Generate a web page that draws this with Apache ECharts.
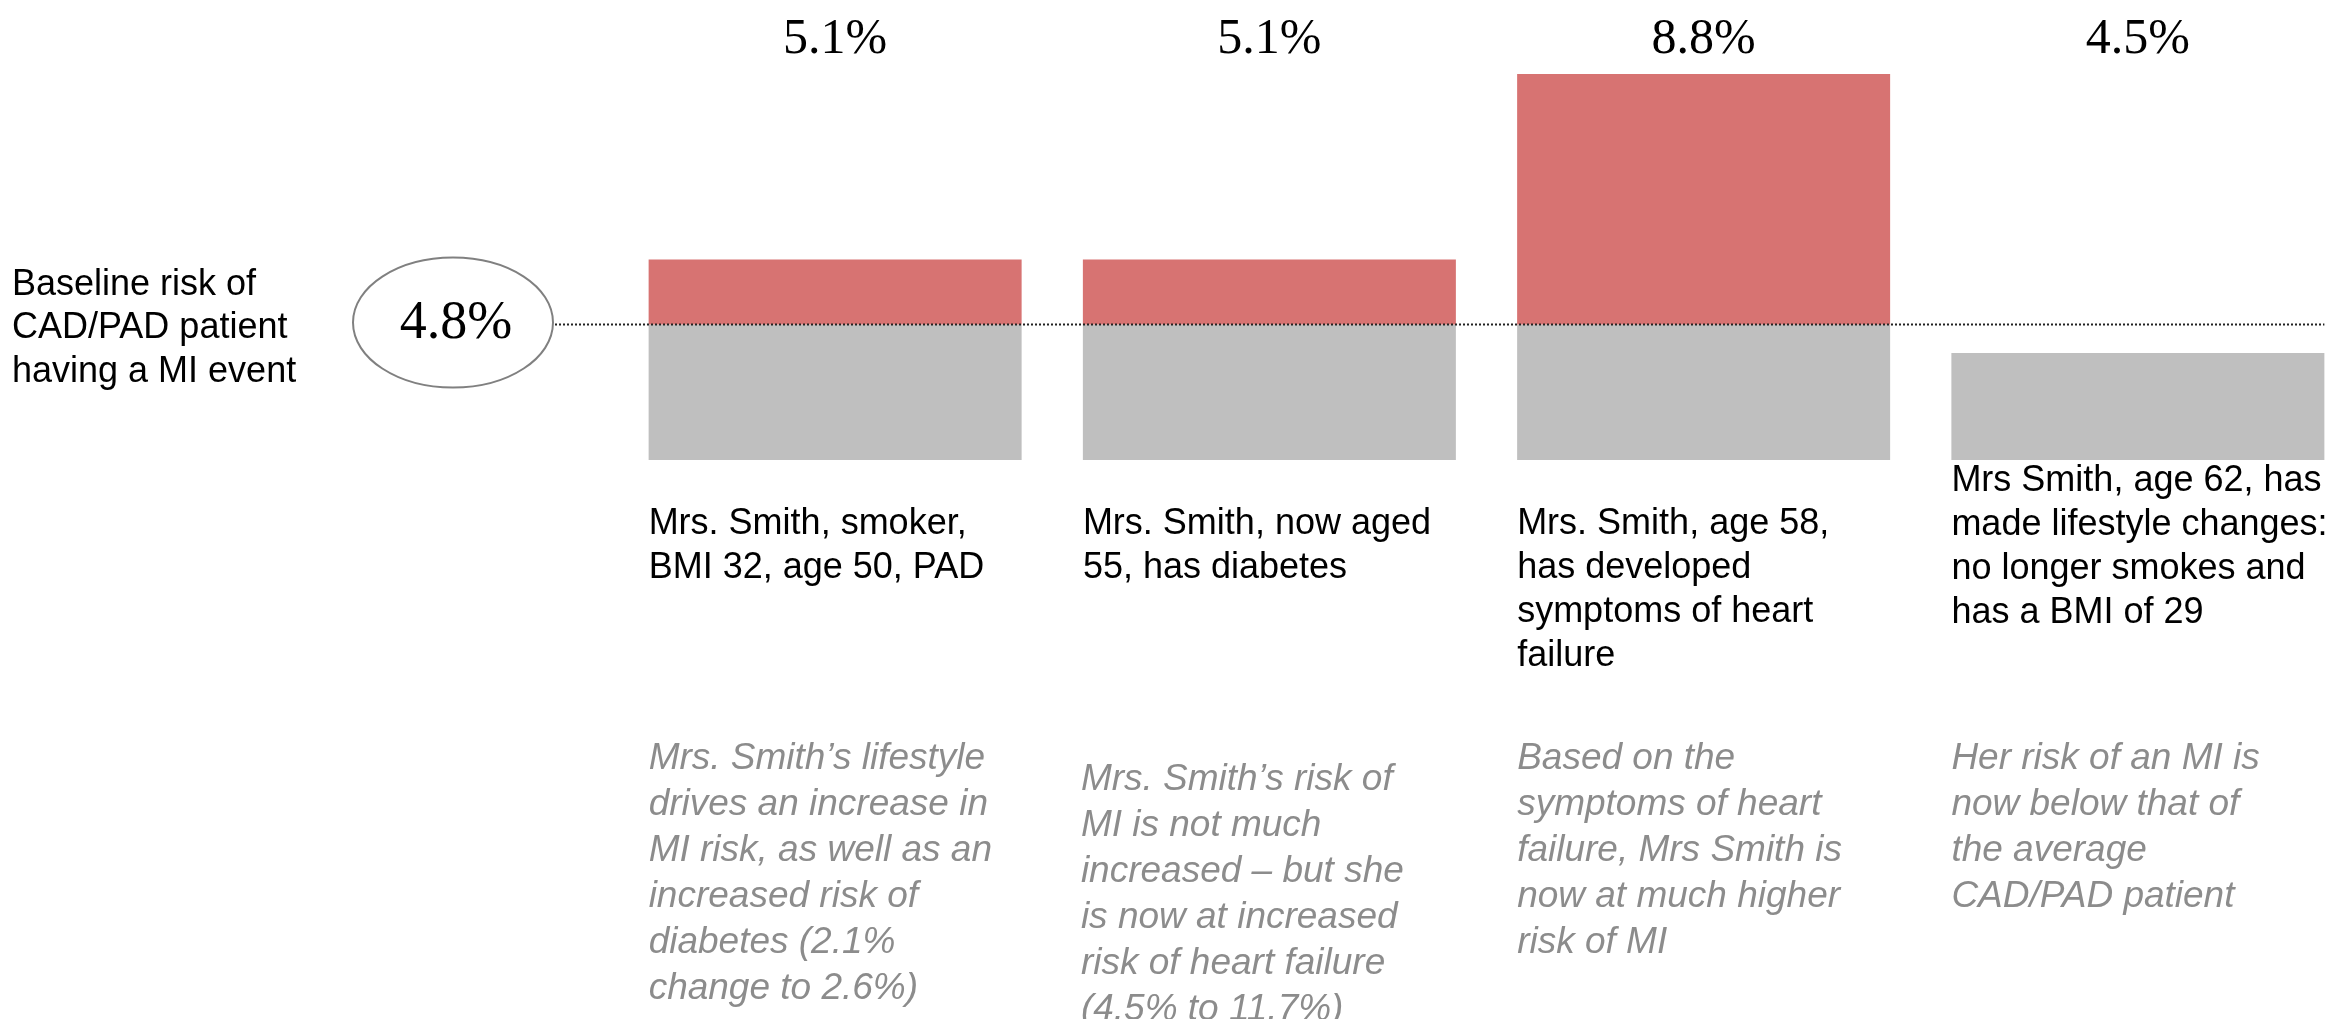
<!DOCTYPE html>
<html>
<head>
<meta charset="utf-8">
<script src="https://cdn.jsdelivr.net/npm/echarts@6/dist/echarts.min.js"></script>
<style>
html,body{margin:0;padding:0;background:#fff;}
#chart{width:2350px;height:1019px;}
</style>
</head>
<body>
<div id="chart"></div>
<script>
// ---- data ----
const categories = ['Age 50', 'Age 55', 'Age 58', 'Age 62'];
const riskValues = [5.1, 5.1, 8.8, 4.5];          // MI risk shown above each bar (%)
const baselineRisk = 4.8;                           // baseline CAD/PAD MI risk (%)
// illustrative bar heights as drawn (baseline grey segment = 1)
const greyHeights = [1, 1, 1, 0.79];
const redHeights = [0.48, 0.48, 1.85, 0];
const baselineLabel = ['Baseline risk of', 'CAD/PAD patient', 'having a MI event'];
const descriptions = [
  ['Mrs. Smith, smoker,', 'BMI 32, age 50, PAD'],
  ['Mrs. Smith, now aged', '55, has diabetes'],
  ['Mrs. Smith, age 58,', 'has developed', 'symptoms of heart', 'failure'],
  ['Mrs Smith, age 62, has', 'made lifestyle changes:', 'no longer smokes and', 'has a BMI of 29']
];
const commentary = [
  ['Mrs. Smith\u2019s lifestyle', 'drives an increase in', 'MI risk, as well as an', 'increased risk of', 'diabetes (2.1%', 'change to 2.6%)'],
  ['Mrs. Smith\u2019s risk of', 'MI is not much', 'increased \u2013 but she', 'is now at increased', 'risk of heart failure', '(4.5% to 11.7%)'],
  ['Based on the', 'symptoms of heart', 'failure, Mrs Smith is', 'now at much higher', 'risk of MI'],
  ['Her risk of an MI is', 'now below that of', 'the average', 'CAD/PAD patient']
];

// ---- styles ----
const SANS = '"Liberation Sans", Arial, sans-serif';
const SERIF = '"Liberation Serif", "Times New Roman", serif';
const RED = '#D77372';
const GREY = '#BFBFBF';
const BAR_W = 373;

const chart = echarts.init(document.getElementById('chart'), null, {renderer: 'canvas'});

chart.setOption({
  animation: false,
  backgroundColor: '#fff',
  grid: {left: 618, top: 74, width: 1737, height: 386, outerBoundsMode: 'none', containLabel: false},
  xAxis: [
    {type: 'category', data: categories, show: false},
    {type: 'category', data: riskValues.map(v => v.toFixed(1) + '%'), position: 'top',
     axisLine: {show: false}, axisTick: {show: false}, splitLine: {show: false},
     axisLabel: {margin: 9, fontFamily: SERIF, fontSize: 50, color: '#000'}}
  ],
  yAxis: {type: 'value', min: 0, max: 2.85, show: false},
  series: [
    {type: 'bar', stack: 'risk', data: greyHeights, barWidth: BAR_W,
     itemStyle: {color: GREY}, silent: true},
    {type: 'bar', stack: 'risk', data: redHeights, barWidth: BAR_W,
     itemStyle: {color: RED}, silent: true}
  ]
});

const yBase = chart.convertToPixel({yAxisIndex: 0}, 1);
const barLeft = i => chart.convertToPixel({xAxisIndex: 0}, i) - BAR_W / 2;
const lastRight = barLeft(categories.length - 1) + BAR_W;

const graphics = [];
// baseline dotted line
graphics.push({type: 'line', z: 100,
  shape: {x1: 555, y1: yBase, x2: lastRight, y2: yBase},
  style: {stroke: '#222', lineWidth: 2, lineDash: [2, 2]}});
// ellipse with baseline risk
graphics.push({type: 'ellipse', z: 100,
  shape: {cx: 453, cy: yBase - 2, rx: 100, ry: 65},
  style: {fill: '#fff', stroke: '#808080', lineWidth: 2}});
graphics.push({type: 'text', z: 101, x: 456, y: yBase - 1,
  style: {text: baselineRisk.toFixed(1) + '%', font: '54px ' + SERIF, fill: '#000',
          textAlign: 'center', textVerticalAlign: 'middle'}});
// left label
graphics.push({type: 'text', z: 100, x: 12, y: 263,
  style: {text: baselineLabel.join('\n'), font: '36px ' + SANS, fill: '#000', lineHeight: 43.5,
          textAlign: 'left', textVerticalAlign: 'top'}});
// descriptions
const descTop = [502, 502, 502, 459];
const comTop = [736, 757, 736, 736];
const comShift = [0, -2, 0, 0];
descriptions.forEach((lines, i) => {
  graphics.push({type: 'text', z: 100, x: barLeft(i), y: descTop[i],
    style: {text: lines.join('\n'), font: '36px ' + SANS, fill: '#000', lineHeight: 44,
            textAlign: 'left', textVerticalAlign: 'top'}});
});
commentary.forEach((lines, i) => {
  graphics.push({type: 'text', z: 100, x: barLeft(i) + comShift[i], y: comTop[i],
    style: {text: lines.join('\n'), font: 'italic 37px ' + SANS, fill: '#8C8C8C', lineHeight: 46,
            textAlign: 'left', textVerticalAlign: 'top'}});
});

chart.setOption({graphic: graphics});
</script>
</body>
</html>
